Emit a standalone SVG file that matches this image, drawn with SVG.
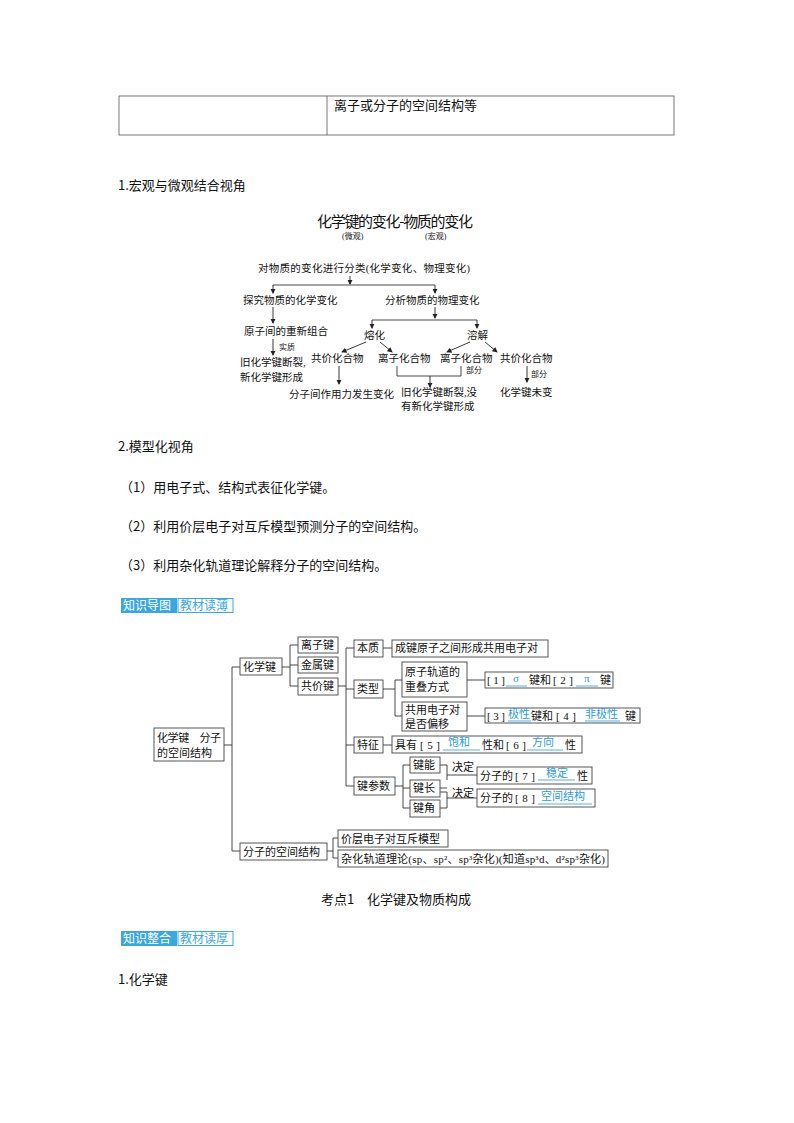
<svg xmlns="http://www.w3.org/2000/svg" width="794" height="1123" viewBox="0 0 794 1123">
<style>
text{font-family:"Liberation Serif","Noto Sans CJK SC",serif;font-size:11px;fill:#111}
.s{font-family:"Noto Sans CJK SC",sans-serif;font-size:13px}
.f{font-size:10.5px}
.sm{font-size:8px}
.b{fill:#2d9cd6}
.bx{fill:#fff;stroke:#444;stroke-width:0.9}
.ln{fill:none;stroke:#333;stroke-width:0.9}
.ar{fill:none;stroke:#222;stroke-width:0.9;marker-end:url(#a)}
.ul{stroke:#2d9cd6;stroke-width:0.8}
</style>
<defs><marker id="a" markerWidth="6" markerHeight="6" refX="5" refY="3" orient="auto"><path d="M0,0L6,3L0,6z" fill="#222"/></marker></defs>
<rect width="794" height="1123" fill="#fff"/>
<g id="table"><rect x="119" y="96" width="555" height="39" fill="none" stroke="#555" stroke-width="0.8"/><line x1="327" y1="96" x2="327" y2="135" stroke="#555" stroke-width="0.8"/>
<text class="s" x="334" y="110">离子或分子的空间结构等</text></g>
<text class="s" x="118" y="190">1.宏观与微观结合视角</text>
<g id="flow">
<text x="317" y="227" style="font-size:15px;font-family:'Noto Sans CJK SC',sans-serif" textLength="156">化学键的变化-物质的变化</text>
<text x="342" y="239" class="sm">(微观)</text><text x="425" y="239" class="sm">(宏观)</text>
<text class="f" x="258" y="272" textLength="212">对物质的变化进行分类(化学变化、物理变化)</text>
<text class="f" x="243" y="304">探究物质的化学变化</text><text class="f" x="385" y="304">分析物质的物理变化</text>
<text class="f" x="244" y="335">原子间的重新组合</text>
<text x="279" y="350" class="sm">实质</text>
<text class="f" x="240" y="366">旧化学键断裂,</text><text class="f" x="240" y="381">新化学键形成</text>
<text class="f" x="364" y="339">熔化</text><text class="f" x="467" y="339">溶解</text>
<text class="f" x="311" y="362">共价化合物</text><text class="f" x="378" y="362">离子化合物</text><text class="f" x="440" y="362">离子化合物</text><text class="f" x="500" y="362">共价化合物</text>
<text x="466" y="373" class="sm">部分</text><text x="531" y="377" class="sm">部分</text>
<text class="f" x="289" y="398">分子间作用力发生变化</text>
<text class="f" x="401" y="396">旧化学键断裂,没</text><text class="f" x="401" y="410">有新化学键形成</text>
<text class="f" x="500" y="396">化学键未变</text>
</g>
<g id="flow-connectors">
<path class="ar" d="M350,276V284"/>
<path class="ln" d="M273,285H435"/>
<path class="ar" d="M273,285V293"/><path class="ar" d="M435,285V293"/>
<path class="ar" d="M273,307V323"/><path class="ar" d="M273,339V355"/>
<path class="ar" d="M435,307V318"/>
<path class="ln" d="M372,320H477"/>
<path class="ar" d="M372,320V328"/><path class="ar" d="M477,320V328"/>
<path class="ar" d="M366,342L342,352"/><path class="ar" d="M380,342L392,352"/>
<path class="ar" d="M470,342L447,352"/><path class="ar" d="M485,342L497,352"/>
<path class="ar" d="M339,366V384"/>
<path class="ln" d="M397,366V376H461V366"/>
<path class="ar" d="M430,376V387"/>
<path class="ar" d="M527,366V382"/>
</g>
<text class="s" x="118" y="451">2.模型化视角</text>
<text class="s" x="120" y="492">（1）用电子式、结构式表征化学键。</text>
<text class="s" x="120" y="531">（2）利用价层电子对互斥模型预测分子的空间结构。</text>
<text class="s" x="120" y="570">（3）利用杂化轨道理论解释分子的空间结构。</text>
<g id="badge1"><rect x="121" y="598" width="56" height="15" fill="#3aa7dd"/><rect x="178" y="598.5" width="55" height="14" fill="#fff" stroke="#3aa7dd"/>
<text x="123" y="610" style="fill:#fff;font-family:'Noto Sans CJK SC',sans-serif;font-size:12px">知识导图</text><text x="180" y="610" style="fill:#3aa7dd;font-family:'Noto Sans CJK SC',sans-serif;font-size:12px">教材读薄</text></g>
<g id="tree-connectors">
<path class="ln" d="M224,745H232M232,667V851M232,667H240M232,851H240"/>
<path class="ln" d="M282,667H290M290,645V686M290,645H298M290,665H298M290,686H298"/>
<path class="ln" d="M338,686H346M346,648V786M346,648H354M346,689H354M346,745H354M346,786H354M383,648H392"/>
<path class="ln" d="M383,689H395M395,680V716M395,680H402M395,716H402M467,680H485M467,716H485M383,745H392"/>
<path class="ln" d="M395,786H403M403,765V808M403,765H410M403,788H410M403,808H410"/>
<path class="ln" d="M440,765H447V780M440,788H447M447,775H477M440,792H447V808H440M447,798H477"/>
<path class="ln" d="M327,851H333M333,838V858M333,838H338M333,858H338"/>
</g>
<g id="tree">
<g id="n-root"><rect class="bx" x="154" y="728" width="70" height="33"/><text x="157" y="742" textLength="64">化学键　分子</text><text x="157" y="757">的空间结构</text></g>
<g id="n-hxj"><rect class="bx" x="240" y="658" width="42" height="17"/><text x="243" y="671">化学键</text></g>
<g id="n-lzj"><rect class="bx" x="298" y="637" width="40" height="16"/><text x="301" y="649">离子键</text></g>
<g id="n-jsj"><rect class="bx" x="298" y="657" width="40" height="16"/><text x="301" y="669">金属键</text></g>
<g id="n-gjj"><rect class="bx" x="298" y="678" width="40" height="17"/><text x="301" y="690">共价键</text></g>
<g id="n-bz"><rect class="bx" x="354" y="640" width="29" height="17"/><text x="357" y="652">本质</text></g>
<g id="n-bz2"><rect class="bx" x="392" y="640" width="156" height="17"/><text x="395" y="652">成键原子之间形成共用电子对</text></g>
<g id="n-lx"><rect class="bx" x="354" y="680" width="29" height="18"/><text x="357" y="693">类型</text></g>
<g id="n-cd"><rect class="bx" x="402" y="662" width="65" height="35"/><text x="405" y="676">原子轨道的</text><text x="405" y="691">重叠方式</text></g>
<g id="n-a12"><rect class="bx" x="485" y="672" width="128" height="16"/><text x="487" y="684" textLength="18">[1]</text><text x="513" y="682" class="b">σ</text><text x="529" y="684">键和</text><text x="553" y="684" textLength="20">[2]</text><text x="584" y="682" class="b">π</text><text x="600" y="684">键</text><line class="ul" x1="506" y1="686" x2="527" y2="686"/><line class="ul" x1="576" y1="686" x2="598" y2="686"/></g>
<g id="n-py"><rect class="bx" x="402" y="702" width="65" height="29"/><text x="405" y="714">共用电子对</text><text x="405" y="728">是否偏移</text></g>
<g id="n-a34"><rect class="bx" x="485" y="708" width="155" height="15"/><text x="487" y="720" textLength="18">[3]</text><text x="508" y="718" class="b">极性</text><text x="531" y="720">键和</text><text x="556" y="720" textLength="20">[4]</text><text x="585" y="718" class="b">非极性</text><text x="625" y="720">键</text><line class="ul" x1="508" y1="721" x2="531" y2="721"/><line class="ul" x1="585" y1="721" x2="620" y2="721"/></g>
<g id="n-tz"><rect class="bx" x="354" y="737" width="29" height="16"/><text x="357" y="749">特征</text></g>
<g id="n-a56"><rect class="bx" x="392" y="736" width="190" height="17"/><text x="395" y="749">具有</text><text x="420" y="749" textLength="20">[5]</text><text x="448" y="746" class="b">饱和</text><text x="482" y="749">性和</text><text x="506" y="749" textLength="20">[6]</text><text x="532" y="746" class="b">方向</text><text x="565" y="749">性</text><line class="ul" x1="443" y1="750" x2="480" y2="750"/><line class="ul" x1="527" y1="750" x2="563" y2="750"/></g>
<g id="n-jcs"><rect class="bx" x="354" y="777" width="41" height="18"/><text x="357" y="790">键参数</text></g>
<g id="n-jn"><rect class="bx" x="410" y="757" width="30" height="16"/><text x="413" y="769">键能</text></g>
<g id="n-jc"><rect class="bx" x="410" y="780" width="30" height="17"/><text x="413" y="792">键长</text></g>
<g id="n-jj"><rect class="bx" x="410" y="800" width="30" height="17"/><text x="413" y="812">键角</text></g>
<text x="452" y="771">决定</text><text x="452" y="797">决定</text>
<g id="n-a7"><rect class="bx" x="477" y="767" width="115" height="17"/><text x="480" y="780">分子的</text><text x="515" y="780" textLength="20">[7]</text><text x="546" y="777" class="b">稳定</text><text x="577" y="780">性</text><line class="ul" x1="538" y1="780" x2="575" y2="780"/></g>
<g id="n-a8"><rect class="bx" x="477" y="789" width="118" height="18"/><text x="480" y="802">分子的</text><text x="515" y="802" textLength="20">[8]</text><text x="541" y="800" class="b">空间结构</text><line class="ul" x1="538" y1="804" x2="592" y2="804"/></g>
<g id="n-fzkj"><rect class="bx" x="240" y="843" width="87" height="17"/><text x="243" y="856">分子的空间结构</text></g>
<g id="n-vsepr"><rect class="bx" x="338" y="830" width="110" height="17"/><text x="341" y="843">价层电子对互斥模型</text></g>
<g id="n-zh"><rect class="bx" x="338" y="850" width="270" height="17"/><text x="341" y="863" textLength="264">杂化轨道理论(sp、sp²、sp³杂化)(知道sp³d、d²sp³杂化)</text></g>
</g>
<text x="396" y="904" text-anchor="middle" style="font-size:13px;font-family:'Noto Sans CJK SC',sans-serif">考点1　化学键及物质构成</text>
<g id="badge2"><rect x="121" y="931" width="56" height="15" fill="#3aa7dd"/><rect x="178" y="931.5" width="55" height="14" fill="#fff" stroke="#3aa7dd"/>
<text x="123" y="943" style="fill:#fff;font-family:'Noto Sans CJK SC',sans-serif;font-size:12px">知识整合</text><text x="180" y="943" style="fill:#3aa7dd;font-family:'Noto Sans CJK SC',sans-serif;font-size:12px">教材读厚</text></g>
<text class="s" x="118" y="984">1.化学键</text>
</svg>
